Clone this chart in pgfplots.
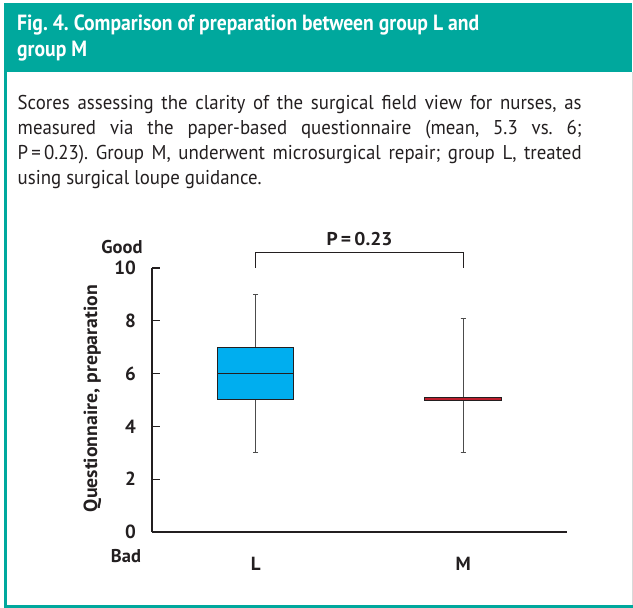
\documentclass[border=0pt]{standalone}
\usepackage{pgfplots}
\pgfplotsset{compat=1.18}
\usepgfplotslibrary{statistics}
\usepackage{graphicx}
\usepackage{fontspec}
\setmainfont{PT Sans}
\frenchspacing
\definecolor{teal}{RGB}{0,168,157}
\definecolor{boxL}{RGB}{0,174,239}
\definecolor{boxM}{RGB}{190,30,45}
\definecolor{ink}{RGB}{35,31,32}
\newcommand\capfont{\fontsize{20bp}{25bp}\selectfont\frenchspacing}
\newcommand\headfont{\fontsize{22bp}{26bp}\selectfont\bfseries\frenchspacing}
\newlength\capw
\newlength\headw
\newlength\jw
\begin{document}
\settowidth\capw{\capfont using surgical loupe guidance.}%
\settowidth\headw{\headfont Fig. 4. Comparison of preparation between group L and}%
\pgfmathsetmacro\capsx{244/(\capw*0.99626)}%
\pgfmathsetmacro\headsx{462/(\headw*0.99626)}%
\pgfmathsetlength\jw{564bp/\capsx}%
\begin{tikzpicture}
\useasboundingbox (0,0) rectangle (633bp,608bp);
% frame
\fill[teal] (4bp,536bp) rectangle (632bp,605bp);
\fill[teal] (4bp,0bp) rectangle (6.5bp,536bp);
\fill[teal] (4bp,0bp) rectangle (633bp,3bp);
\draw[black!15, line width=0.6bp] (632bp,3bp) -- (632bp,536bp);
% header
\node[anchor=base west, inner sep=0, text=white, font=\headfont] at (17bp,577.3bp) {\scalebox{\headsx}[1]{Fig. 4. Comparison of preparation between group L and}};
\node[anchor=base west, inner sep=0, text=white, font=\headfont] at (17bp,551bp) {\scalebox{\headsx}[1]{group M}};
% caption
\begin{scope}[every node/.style={anchor=base west, inner sep=0, text=ink, font=\capfont}]
\node at (17.5bp,498.7bp) {\scalebox{\capsx}[1]{\makebox[\jw][s]{\capfont Scores assessing the clarity of the surgical field view for nurses, as}}};
\node at (17.5bp,473.7bp) {\scalebox{\capsx}[1]{\makebox[\jw][s]{\capfont measured via the paper-based questionnaire (mean, 5.3 vs. 6;}}};
\node at (17.5bp,448bp) {\scalebox{\capsx}[1]{\makebox[\jw][s]{\capfont P\,=\,0.23). Group M, underwent microsurgical repair; group L, treated}}};
\node at (17.5bp,423bp) {\scalebox{\capsx}[1]{using surgical loupe guidance.}};
\end{scope}
\begin{axis}[
  at={(152bp,76bp)}, anchor=south west,
  scale only axis, width=415bp, height=264bp,
  xmin=0.5, xmax=2.5, ymin=0, ymax=10,
  axis x line*=bottom, axis y line*=left,
  axis line style={ink, line width=1.3bp},
  tick align=inside,
  major tick length=7.5bp,
  xtick={1,2}, xticklabels={L,M},
  xtick style={draw=none},
  ytick={0,2,4,6,8,10},
  yticklabels={0,2,4,6,8,10},
  ytick style={ink, line width=1.2bp},
  ticklabel style={font=\fontsize{19bp}{22bp}\selectfont\bfseries, text=ink},
  yticklabel style={anchor=east, inner sep=0, xshift=-16bp, rotate=0},
  xticklabel style={anchor=base, inner sep=0, yshift=-38bp},
  ylabel={\resizebox{227bp}{\height}{Questionnaire, preparation}},
  ylabel style={at={(axis description cs:-0.1325,0.505)}, anchor=base, inner sep=0, font=\fontsize{19bp}{23bp}\selectfont\bfseries, text=ink},
  boxplot/draw direction=y,
  boxplot/every whisker/.style={draw=black!70, line width=1.1bp},
  boxplot/every median/.style={draw=ink, line width=1.2bp},
  clip=false,
]
\addplot+[draw=ink, line width=1bp, fill=boxL, mark=none, solid,
  boxplot prepared={draw position=1, lower whisker=3, lower quartile=5, median=6, upper quartile=7, upper whisker=9, box extend=0.367, whisker extend=0.025}]
  coordinates {};
\addplot+[draw=ink, line width=1bp, fill=boxM, mark=none, solid,
  boxplot prepared={draw position=2, lower whisker=3, lower quartile=4.97, median=4.97, upper quartile=5.09, upper whisker=8.1, box extend=0.37, whisker extend=0.025}]
  coordinates {};
\draw[ink, line width=1.2bp] (axis cs:1,10) -- (axis cs:1,10.6) -- (axis cs:2,10.6) -- (axis cs:2,10);
\node[anchor=base, inner sep=0, text=ink, font=\fontsize{18.5bp}{22bp}\selectfont\bfseries] at (axis cs:1.5,10.87) {\resizebox{66bp}{\height}{P\,=\,0.23}};
\end{axis}
\node[anchor=base, inner sep=0, text=ink, font=\fontsize{18.5bp}{22bp}\selectfont\bfseries] at (122bp,354.7bp) {Good};
\node[anchor=base, inner sep=0, text=ink, font=\fontsize{18.5bp}{22bp}\selectfont\bfseries] at (126bp,45.3bp) {Bad};
\end{tikzpicture}
\end{document}
